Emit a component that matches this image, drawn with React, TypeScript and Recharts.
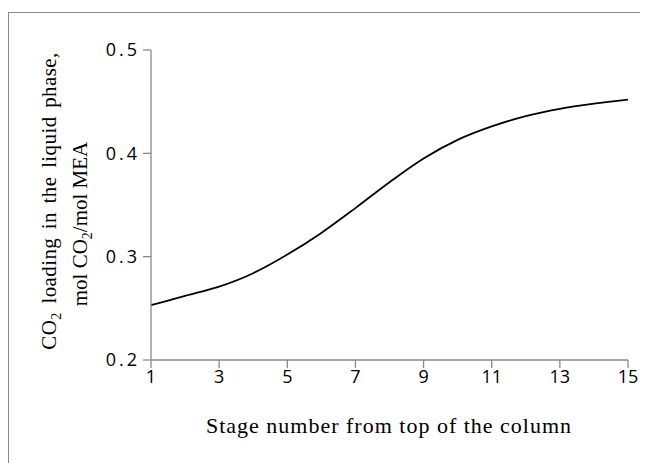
import { Line, LineChart, XAxis, YAxis } from "recharts";

// CO2 loading per stage
const stages = [1, 2, 3, 4, 5, 6, 7, 8, 9, 10, 11, 12, 13, 14, 15];
const loading = [0.253, 0.262, 0.271, 0.284, 0.302, 0.323, 0.347, 0.372, 0.395, 0.413, 0.426, 0.436, 0.443, 0.448, 0.452];
const xTicks = [1, 3, 5, 7, 9, 11, 13, 15];
const yTicks = [0.2, 0.3, 0.4, 0.5];

const data = stages.map((s, i) => ({ stage: s, loading: loading[i] }));

const axisGray = "#898989";
const tickStyle = { fill: "#000", fontSize: 18, fontFamily: "'Open Sans', sans-serif" };
const serif = "'Liberation Serif', 'Times New Roman', serif";

function YTitle() {
  return (
    <g fontFamily={serif} fontSize={21} fill="#000">
      <text transform="translate(47,188) rotate(-90)" textAnchor="middle" wordSpacing={3} letterSpacing={0.4}>
        CO<tspan dy={5} fontSize={14}>2</tspan>
        <tspan dy={-5}>{"  loading in the liquid  phase,"}</tspan>
      </text>
      <text transform="translate(78,211) rotate(-90)" textAnchor="middle">
        mol CO<tspan dy={5} fontSize={14}>2</tspan>
        <tspan dy={-5}>/mol MEA</tspan>
      </text>
    </g>
  );
}

function XTitle() {
  return (
    <text x={380} y={420} textAnchor="middle" fontFamily={serif} fontSize={22} letterSpacing={1} fill="#000">
      Stage number from top of the column
    </text>
  );
}

export default function App() {
  return (
    <div style={{ paddingTop: 4, height: 451, overflow: "hidden" }}>
      <style>{"html,body{overflow:hidden}"}</style>
      <div style={{ width: 700, height: 470, borderTop: `1px solid ${axisGray}`, borderLeft: `1px solid ${axisGray}` }}>
        <LineChart width={660} height={440} data={data} margin={{ top: 37, right: 41, left: 0, bottom: 10 }}>
          <XAxis
            dataKey="stage"
            type="number"
            domain={[1, 15]}
            ticks={xTicks}
            height={83}
            tick={tickStyle}
            tickSize={8}
            tickMargin={2}
            stroke={axisGray}
            axisLine={{ stroke: axisGray, strokeWidth: 1.3 }}
            tickLine={{ stroke: axisGray, strokeWidth: 1.3 }}
            label={{ content: () => <XTitle /> }}
          />
          <YAxis
            type="number"
            domain={[0.2, 0.5]}
            ticks={yTicks}
            width={142}
            tick={{ ...tickStyle, letterSpacing: 3 }}
            tickFormatter={(v: number) => v.toFixed(1)}
            tickSize={8}
            tickMargin={3}
            stroke={axisGray}
            axisLine={{ stroke: axisGray, strokeWidth: 1.3 }}
            tickLine={{ stroke: axisGray, strokeWidth: 1.3 }}
            label={{ content: () => <YTitle /> }}
          />
          <Line
            type="monotone"
            dataKey="loading"
            stroke="#000"
            strokeWidth={1.8}
            dot={false}
            isAnimationActive={false}
          />
        </LineChart>
      </div>
    </div>
  );
}
